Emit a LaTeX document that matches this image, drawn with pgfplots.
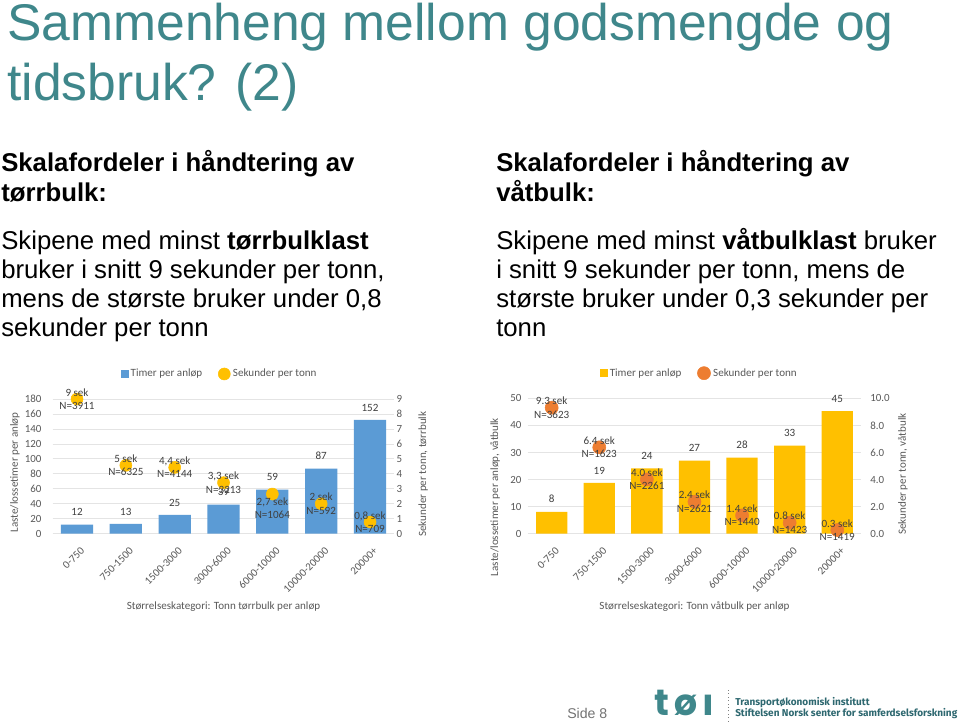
\documentclass[border=0pt]{standalone}
\usepackage{fontspec}
\setmainfont{Liberation Sans}
\newfontfamily\carl{Carlito}
\newfontfamily\popf{Poppins}
\newfontfamily\firaf{Fira Sans}
\usepackage{pgfplots}
\usepackage{pgfplotstable}
\pgfplotsset{compat=1.18}
\definecolor{teal1}{HTML}{3F878B}
\definecolor{foot}{HTML}{2E6870}
\definecolor{blue1}{HTML}{5B9BD5}
\definecolor{yel}{HTML}{FFC000}
\definecolor{ora}{HTML}{ED7D31}
\definecolor{tg}{HTML}{595959}
\definecolor{dl}{HTML}{404040}
\definecolor{grid1}{HTML}{E4E4E4}

\pgfplotstableread[col sep=semicolon]{
x;y;lab
0;12;12
1;13;13
2;25;25
3;39;39
4;59;59
5;87;87
6;152;152
}\dryB
\pgfplotstableread[col sep=semicolon]{
x;y;lab
0;9.0;9 sek\\N=3911
1;4.57;5 sek\\N=6325
2;4.43;4,4 sek\\N=4144
3;3.41;3,3 sek\\N=3213
4;2.65;2,7 sek\\N=1064
5;2.0;2 sek\\N=592
6;0.78;0,8 sek\\N=709
}\dryS
\pgfplotstableread[col sep=semicolon]{
x;y;lab
0;8.1;8
1;18.8;19
2;24.1;24
3;27;27
4;28.1;28
5;32.5;33
6;45.3;45
}\wetB
\pgfplotstableread[col sep=semicolon]{
x;y;lab
0;9.31;9.3 sek\\N=3623
1;6.38;6.4 sek\\N=1623
2;4.01;4.0 sek\\N=2261
3;2.36;2.4 sek\\N=2621
4;1.35;1.4 sek\\N=1440
5;0.81;0.8 sek\\N=1423
6;0.27;0.3 sek\\N=1419
}\wetS

\pgfplotsset{
  base/.style={
    scale only axis, anchor=south west,
    xmin=-0.5, xmax=6.5,
    axis line style={draw=none},
    major tick length=0pt,
    tick label style={font=\carl\fontsize{8.2}{9.8}\selectfont, text=tg},
    label style={font=\carl\fontsize{8.3}{10}\selectfont, text=tg},
    /pgf/number format/assume math mode=true,
    clip=false,
  },
  cats/.style={
    xtick={0,...,6},
    xticklabels={0-750,750-1500,1500-3000,3000-6000,6000-10000,10000-20000,20000+},
    xticklabel style={xshift=2.25pt,yshift=-9.5pt,rotate=45,anchor=north east,inner sep=0pt},
    ymajorgrids, grid style={draw=grid1, line width=0.6pt},
  },
  leg/.style={
    legend style={at={(#1,1.186)}, anchor=center, draw=none, fill=none,
      font=\carl\fontsize{8.3}{10}\selectfont, text=tg, legend columns=2,
      /tikz/every even column/.append style={column sep=10pt}},
  },
  barlab/.style={point meta=explicit symbolic, nodes near coords,
    every node near coord/.append style={font=\carl\fontsize{8.3}{10}\selectfont, text=dl, yshift=3pt}},
  dotlab/.style={forget plot, only marks, mark=none, point meta=explicit symbolic, nodes near coords,
    every node near coord/.append style={anchor=center, align=center,
      font=\carl\fontsize{8.3}{10}\selectfont, text=dl}},
}

\begin{document}
\begin{tikzpicture}
\path[use as bounding box, fill=white] (0,0) rectangle (720pt,542.25pt);

% title
\node[anchor=base west, inner sep=0pt, text=teal1, font=\fontsize{38.7}{46}\selectfont] at (5.25pt,511.5pt) {Sammenheng mellom godsmengde og};
\node[anchor=base west, inner sep=0pt, text=teal1, font=\fontsize{38.7}{46}\selectfont] at (5.25pt,466.5pt) {tidsbruk? (2)};

% left text
\node[anchor=base west, inner sep=0pt, font=\fontsize{19.3}{23}\selectfont\bfseries] at (0.75pt,413.25pt) {Skalafordeler i håndtering av};
\node[anchor=base west, inner sep=0pt, font=\fontsize{19.3}{23}\selectfont\bfseries] at (0.75pt,391pt) {tørrbulk:};
\node[anchor=base west, inner sep=0pt, font=\fontsize{19.3}{23}\selectfont] at (0.75pt,355pt) {Skipene med minst \textbf{tørrbulklast}};
\node[anchor=base west, inner sep=0pt, font=\fontsize{19.3}{23}\selectfont] at (0.75pt,333.2pt) {bruker i snitt 9 sekunder per tonn,};
\node[anchor=base west, inner sep=0pt, font=\fontsize{19.3}{23}\selectfont] at (0.75pt,311.25pt) {mens de største bruker under 0,8};
\node[anchor=base west, inner sep=0pt, font=\fontsize{19.3}{23}\selectfont] at (0.75pt,289.7pt) {sekunder per tonn};

% right text
\node[anchor=base west, inner sep=0pt, font=\fontsize{19.3}{23}\selectfont\bfseries] at (372pt,413.25pt) {Skalafordeler i håndtering av};
\node[anchor=base west, inner sep=0pt, font=\fontsize{19.3}{23}\selectfont\bfseries] at (372pt,391pt) {våtbulk:};
\node[anchor=base west, inner sep=0pt, font=\fontsize{19.3}{23}\selectfont] at (372pt,355pt) {Skipene med minst \textbf{våtbulklast} bruker};
\node[anchor=base west, inner sep=0pt, font=\fontsize{19.3}{23}\selectfont] at (372pt,333.2pt) {i snitt 9 sekunder per tonn, mens de};
\node[anchor=base west, inner sep=0pt, font=\fontsize{19.3}{23}\selectfont] at (372pt,311.25pt) {største bruker under 0,3 sekunder per};
\node[anchor=base west, inner sep=0pt, font=\fontsize{19.3}{23}\selectfont] at (372pt,289.7pt) {tonn};

% footer
\node[anchor=base west, inner sep=0pt, text=gray!90!black, font=\fontsize{10.6}{12}\selectfont] at (425.25pt,3pt) {Side 8};
\node[anchor=base west, inner sep=0pt, text=teal1, font=\popf\bfseries\fontsize{27.4}{30}\selectfont] at (491pt,5.5pt) {t};
\node[anchor=base west, inner sep=0pt, text=teal1, font=\popf\bfseries\fontsize{27.4}{30}\selectfont] at (506pt,5.5pt) {ø};
\node[anchor=base west, inner sep=0pt, text=teal1, font=\popf\bfseries\fontsize{27.4}{30}\selectfont] at (527pt,5.5pt) {ı};
\draw[gray, dotted, line width=0.6pt] (546pt,1pt) -- (546pt,24.75pt);
\node[anchor=base west, inner sep=0pt, text=foot, font=\firaf\bfseries\fontsize{7.5}{9}\selectfont] at (551.25pt,12.75pt) {Transportøkonomisk institutt};
\node[anchor=base west, inner sep=0pt, text=foot, font=\firaf\bfseries\fontsize{7.5}{9}\selectfont] at (551.25pt,4.5pt) {Stiftelsen Norsk senter for samferdselsforskning};

% ---------- left chart ----------
\begin{axis}[base, cats, at={(39.45pt,141.98pt)}, width=256.4pt, height=101pt,
  ymin=0, ymax=180, ytick={0,20,...,180},
  yticklabel style={anchor=east, inner sep=0pt, xshift=-8.2pt},
  ylabel={Laste/lossetimer per anløp},
  ylabel style={at={(axis description cs:-0.110,0.454)}, anchor=center},
  xlabel={Størrelseskategori: Tonn tørrbulk per anløp},
  xlabel style={at={(axis description cs:0.5,-0.544)}, anchor=center},
]
\addplot[ybar, bar width=24.2pt, fill=blue1, draw=none, barlab] table[x=x,y=y,meta=lab]{\dryB};
\end{axis}
\begin{axis}[base, leg=0.49, at={(39.45pt,141.98pt)}, width=256.4pt, height=101pt,
  ymin=0, ymax=9, ytick={0,...,9}, xtick=\empty,
  yticklabel pos=right,
  yticklabel style={anchor=west, inner sep=0pt, xshift=1.5pt},
  ylabel={Sekunder per tonn, tørrbulk},
  ylabel style={at={(axis description cs:1.0837,0.443)}, anchor=center},
]
\addlegendimage{only marks, mark=square*, mark size=2.6pt, color=blue1}
\addlegendentry{Timer per anløp}
\addplot[only marks, mark=*, mark size=4.5pt, color=yel] table[x=x,y=y]{\dryS};
\addlegendentry{Sekunder per tonn}
\addplot[dotlab, skip coords between index={4}{5}] table[x=x,y=y,meta=lab]{\dryS};
\addplot[dotlab, skip coords between index={0}{4}, skip coords between index={5}{7},
  every node near coord/.append style={yshift=-10.7pt}] table[x=x,y=y,meta=lab]{\dryS};
\end{axis}

% ---------- right chart ----------
\begin{axis}[base, cats, at={(395.9pt,141.98pt)}, width=249.9pt, height=101.5pt,
  ymin=0, ymax=50, ytick={0,10,...,50},
  yticklabel style={anchor=east, inner sep=0pt, xshift=-4.6pt},
  ylabel={Laste/lossetimer per anløp, våtbulk},
  ylabel style={at={(axis description cs:-0.0987,0.271)}, anchor=center},
  xlabel={Størrelseskategori: Tonn våtbulk per anløp},
  xlabel style={at={(axis description cs:0.5,-0.541)}, anchor=center},
]
\addplot[ybar, bar width=23.5pt, fill=yel, draw=none, barlab] table[x=x,y=y,meta=lab]{\wetB};
\end{axis}
\begin{axis}[base, leg=0.516, at={(395.9pt,141.98pt)}, width=249.9pt, height=101.5pt,
  ymin=0, ymax=10, ytick={0,2,...,10}, xtick=\empty,
  yticklabel pos=right,
  /pgf/number format/fixed, /pgf/number format/fixed zerofill, /pgf/number format/precision=1,
  yticklabel style={anchor=west, inner sep=0pt, xshift=6.8pt},
  ylabel={Sekunder per tonn,  våtbulk},
  ylabel style={at={(axis description cs:1.1257,0.441)}, anchor=center},
]
\addlegendimage{only marks, mark=square*, mark size=2.6pt, color=yel}
\addlegendentry{Timer per anløp}
\addplot[only marks, mark=*, mark size=4.9pt, color=ora] table[x=x,y=y]{\wetS};
\addlegendentry{Sekunder per tonn}
\addplot[dotlab] table[x=x,y=y,meta=lab]{\wetS};
\end{axis}
\end{tikzpicture}
\end{document}
